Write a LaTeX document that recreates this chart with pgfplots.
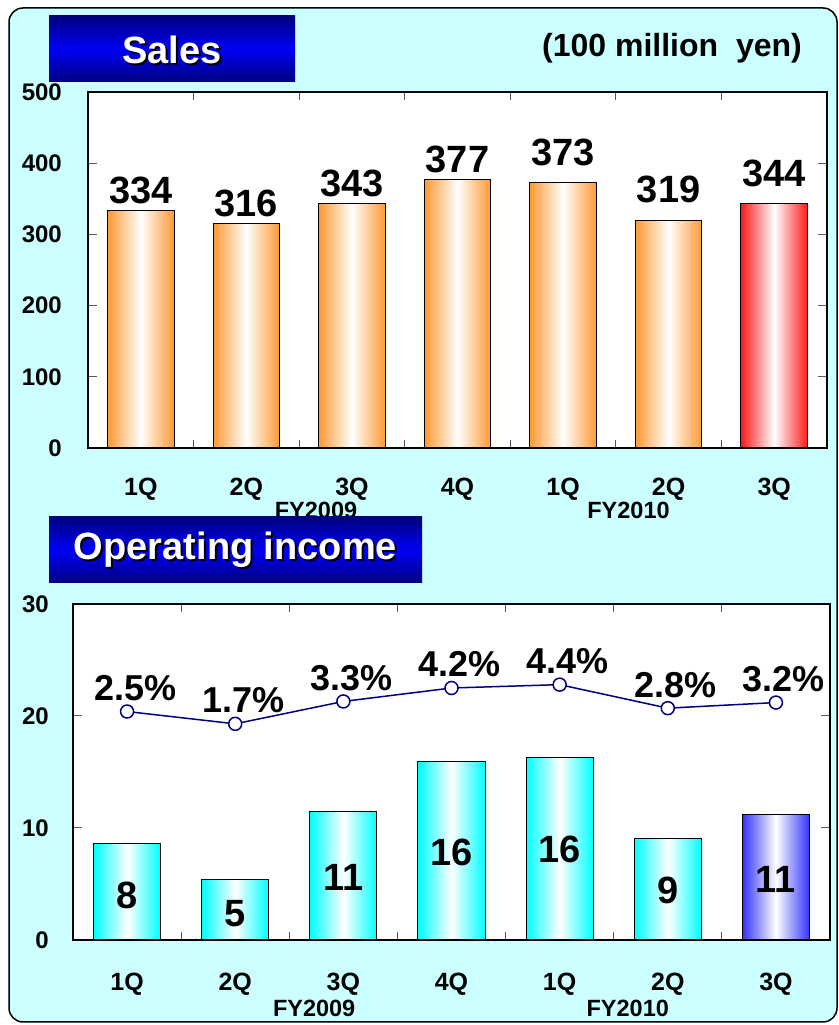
\documentclass[border=0pt]{standalone}
\usepackage{pgfplots}
\pgfplotsset{compat=1.18}
\usepackage{fontspec}
\setmainfont{Liberation Sans}

\definecolor{bgcyan}{HTML}{CCFFFF}
\definecolor{barorange}{HTML}{FF9933}
\definecolor{barred}{HTML}{FF1A1A}
\definecolor{barcyan}{HTML}{00FFFF}
\definecolor{barblue}{HTML}{3333FF}
\definecolor{navy}{HTML}{000080}
\definecolor{titleblue}{HTML}{0000F5}

\newcommand\fs[1]{\fontsize{#1}{#1}\selectfont}

\pgfplotsset{
  quarters/.style={
    scale only axis, clip=false,
    axis background/.style={fill=white},
    axis line style={line width=1.5pt},
    xmin=-0.5, xmax=6.5,
    xtick={0,...,6},
    xticklabels={1Q,2Q,3Q,4Q,1Q,2Q,3Q},
    minor xtick={0.5,1.5,...,5.5},
    every major x tick/.append style={draw=none},
    tick align=inside,
    major tick length=9pt, minor tick length=8pt,
    tick style={black!65, line width=1pt},
    /pgf/number format/assume math mode=true,
    yticklabel style={font=\bfseries\fs{24}, inner sep=0pt},
    xticklabel style={font=\bfseries\fs{25}, inner sep=0pt},
  },
  shadebar/.style={ybar, bar shift=0pt, draw=black, line width=1pt,
    left color=#1, right color=#1, middle color=white},
}
% one bar per plot, so that every bar gets its own shading
% #1 colour, #2 label gap, #3 x, #4 value
\newcommand\salesbar[4]{%
  \addplot[shadebar=#1, bar width=0.63, nodes near coords,
    every node near coord/.append style={font=\bfseries\fs{38}, text=black,
      inner sep=0pt, yshift=#2}]
    coordinates {(#3,#4)};}
\newcommand\incomebar[3]{%
  \addplot[shadebar=#1, bar width=0.62] coordinates {(#2,#3)};}

\begin{document}
\begin{tikzpicture}[x=1pt,y=1pt]
\path[use as bounding box] (0,0) rectangle (838,1025);
\draw[fill=bgcyan, line width=1.5pt, rounded corners=14pt] (9,3) rectangle (837,1017);

% sales
\begin{axis}[quarters, at={(88pt,577pt)}, anchor=south west,
  width=739pt, height=356pt,
  ymin=0, ymax=500, ytick={0,100,...,500},
  yticklabel style={xshift=-26pt},
  xticklabel style={yshift=-30pt},
]
\salesbar{barorange}{6pt}{0}{334}
\salesbar{barorange}{6pt}{1}{316}
\salesbar{barorange}{6pt}{2}{343}
\salesbar{barorange}{6pt}{3}{377}
\salesbar{barorange}{16pt}{4}{373}
\salesbar{barorange}{17pt}{5}{319}
\salesbar{barred}{16pt}{6}{344}
\node[font=\bfseries\fs{23.5}, yshift=-62pt] at (axis cs:1.66,0) {FY2009};
\node[font=\bfseries\fs{23.5}, yshift=-62pt] at (axis cs:4.62,0) {FY2010};
\end{axis}

% operating income
\begin{axis}[quarters, at={(73pt,85pt)}, anchor=south west,
  width=757pt, height=336pt,
  ymin=0, ymax=30, ytick={0,10,20,30},
  yticklabel style={xshift=-24pt},
  xticklabel style={yshift=-33pt},
]
\incomebar{barcyan}{0}{8.6}
\incomebar{barcyan}{1}{5.4}
\incomebar{barcyan}{2}{11.45}
\incomebar{barcyan}{3}{15.9}
\incomebar{barcyan}{4}{16.3}
\incomebar{barcyan}{5}{9.1}
\incomebar{barblue}{6}{11.2}
% value labels in the middle of the bars
\addplot[draw=none, mark=none, nodes near coords, point meta=explicit symbolic,
  every node near coord/.append style={anchor=center, font=\bfseries\fs{38}, text=black, inner sep=0pt}]
  coordinates {(0,4.0)[8] (1,2.4)[5] (2,5.6)[11] (3,7.8)[16] (4,8.1)[16] (5,4.4)[9] (6,5.4)[11]};
% margin line
\addplot[navy, line width=1.5pt, mark=*, mark size=6.5pt,
  mark options={fill=white, draw=navy, line width=1.5pt},
  nodes near coords, point meta=explicit symbolic,
  every node near coord/.append style={anchor=base, font=\bfseries\fs{36}, text=black,
    inner sep=0pt, yshift=11pt, xshift=8pt}]
  coordinates {(0,20.4)[2.5\%] (1,19.3)[1.7\%] (2,21.3)[3.3\%] (3,22.5)[4.2\%]
               (4,22.8)[4.4\%] (5,20.7)[2.8\%] (6,21.2)[3.2\%]};
\node[font=\bfseries\fs{23.5}, yshift=-68pt] at (axis cs:1.73,0) {FY2009};
\node[font=\bfseries\fs{23.5}, yshift=-68pt] at (axis cs:4.63,0) {FY2010};
\end{axis}

% title boxes
\shade[top color=navy, bottom color=navy, middle color=titleblue] (49,943) rectangle (295,1009);
\node[font=\bfseries\fs{38}, text=black] at (174,973) {Sales};
\node[font=\bfseries\fs{38}, text=white] at (172,975) {Sales};
\shade[top color=navy, bottom color=navy, middle color=titleblue] (49,442) rectangle (422,508);
\node[font=\bfseries\fs{38}, text=black] at (237.5,473) {Operating income};
\node[font=\bfseries\fs{38}, text=white] at (235.5,475) {Operating income};

\node[font=\bfseries\fs{32}] at (672,977) {(100 million\ \ yen)};
\end{tikzpicture}
\end{document}
